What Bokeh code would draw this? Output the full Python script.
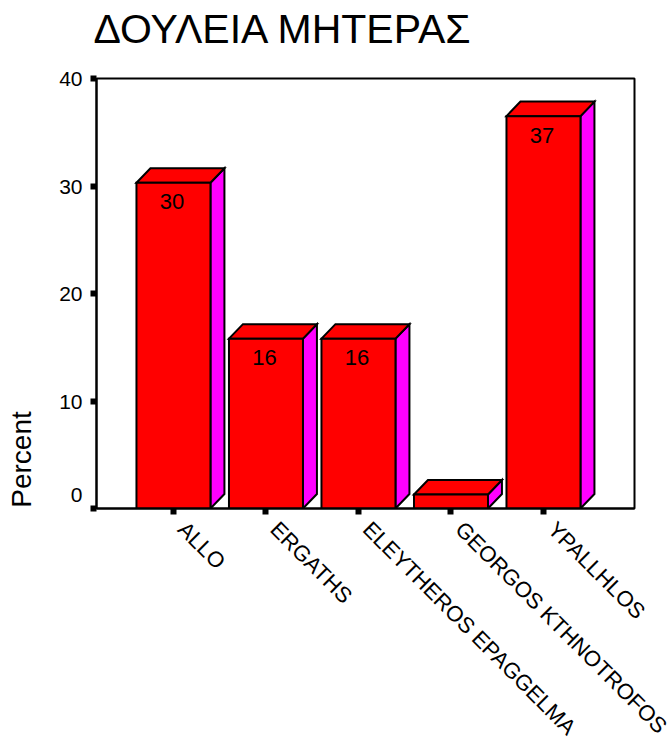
from math import pi
from bokeh.embed import file_html
from bokeh.resources import INLINE
from bokeh.plotting import figure
from bokeh.models import FixedTicker, Range1d, ColumnDataSource, LinearAxis
from bokeh.core.properties import value

TITLE = "ΔΟΥΛΕΙΑ ΜΗΤΕΡΑΣ"
categories = ["ALLO", "ERGATHS", "ELEYTHEROS EPAGGELMA", "GEORGOS KTHNOTROFOS", "YPALLHLOS"]
percent = [30.3, 15.8, 15.8, 1.3, 36.5]
bar_labels = ["30", "16", "16", "", "37"]
y_ticks = [0, 10, 20, 30, 40]

FONT = "Liberation Sans"
half = 0.4
dx, dy = 0.151, 1.35
X0, X1 = -0.832, 4.984
LABEL_SHIFT = 0.09
PCT_POS = 4.56

p = figure(width=670, height=740, output_backend="svg", toolbar_location=None,
           x_range=Range1d(X0, X1), y_range=Range1d(0, 40),
           frame_width=538, frame_height=430,
           min_border_left=96, min_border_top=0, min_border_right=36, min_border_bottom=232,
           title=TITLE)
p.title.text_font = FONT
p.title.text_font_size = "41px"
p.title.text_font_style = "normal"
p.title.text_color = "black"
p.title.vertical_align = "top"
p.title.offset = -3
p.title.standoff = 10
p.grid.visible = False
p.outline_line_color = "black"
p.outline_line_width = 2
p.background_fill_color = "white"

xs = list(range(len(categories)))
front_x, front_y, top_x, top_y, side_x, side_y = [], [], [], [], [], []
for x, v in zip(xs, percent):
    l, r = x - half, x + half
    front_x.append([l, r, r, l]); front_y.append([0, 0, v, v])
    top_x.append([l, l + dx, r + dx, r]); top_y.append([v, v + dy, v + dy, v])
    side_x.append([r, r + dx, r + dx, r]); side_y.append([0, dy, v + dy, v])

kw = dict(line_color="black", line_width=2, line_join="miter")
p.patches(side_x, side_y, fill_color="#ff00ff", **kw)
p.patches(top_x, top_y, fill_color="#ff0000", **kw)
p.patches(front_x, front_y, fill_color="#ff0000", **kw)

src = ColumnDataSource(dict(x=xs, y=percent, t=bar_labels))
p.text("x", "y", text="t", source=src, text_align="center", text_baseline="middle",
       x_offset=-1.5, y_offset=19, text_font=value(FONT), text_font_size="22px", text_color="black")

xa = p.xaxis[0]
ya = p.yaxis[0]
for ax in (xa, ya):
    ax.axis_line_color = "black"
    ax.axis_line_width = 2
    ax.major_tick_line_color = "black"
    ax.major_tick_line_width = 6
    ax.major_tick_in = 0
    ax.major_tick_out = 6
    ax.minor_tick_line_color = None
    ax.major_label_text_font = FONT
    ax.major_label_text_color = "black"

xa.ticker = FixedTicker(ticks=xs)
xa.major_label_text_font_size = "0px"
xa.major_label_overrides = {i: "" for i in xs}
xa.major_label_standoff = 0

p.extra_x_ranges["labels"] = Range1d(X0 - LABEL_SHIFT, X1 - LABEL_SHIFT)
xl = LinearAxis(x_range_name="labels", ticker=FixedTicker(ticks=xs),
                major_label_overrides={i: c for i, c in enumerate(categories)},
                major_label_orientation=-pi / 4, major_label_standoff=11,
                major_label_text_font=FONT, major_label_text_font_size="22px",
                major_label_text_color="black",
                axis_line_color=None, major_tick_line_color=None, minor_tick_line_color=None,
                major_tick_in=0, major_tick_out=0, minor_tick_in=0, minor_tick_out=0)
p.add_layout(xl, "below")

ya.ticker = FixedTicker(ticks=y_ticks)
ya.major_label_text_font_size = "21px"
ya.major_label_standoff = 8
ya.major_label_overrides = {0: "0\n"}

p.extra_y_ranges["pct"] = Range1d(-PCT_POS, 40 - PCT_POS)
yl = LinearAxis(y_range_name="pct", ticker=FixedTicker(ticks=[0]),
                major_label_overrides={0: "Percent"},
                major_label_orientation="vertical", major_label_standoff=19,
                major_label_text_font=FONT, major_label_text_font_size="28px",
                major_label_text_color="black",
                axis_line_color=None, major_tick_line_color=None, minor_tick_line_color=None,
                major_tick_in=0, major_tick_out=0, minor_tick_in=0, minor_tick_out=0)
p.add_layout(yl, "left")

spacer = LinearAxis(ticker=FixedTicker(ticks=[0]), axis_line_color=None, major_tick_line_color=None,
                    minor_tick_line_color=None, major_tick_in=0, major_tick_out=20,
                    minor_tick_in=0, minor_tick_out=0, major_label_standoff=0,
                    major_label_overrides={0: ""}, major_label_text_font_size="0px")
p.add_layout(spacer, "above")

open("out.html", "w").write(file_html(p, INLINE))
